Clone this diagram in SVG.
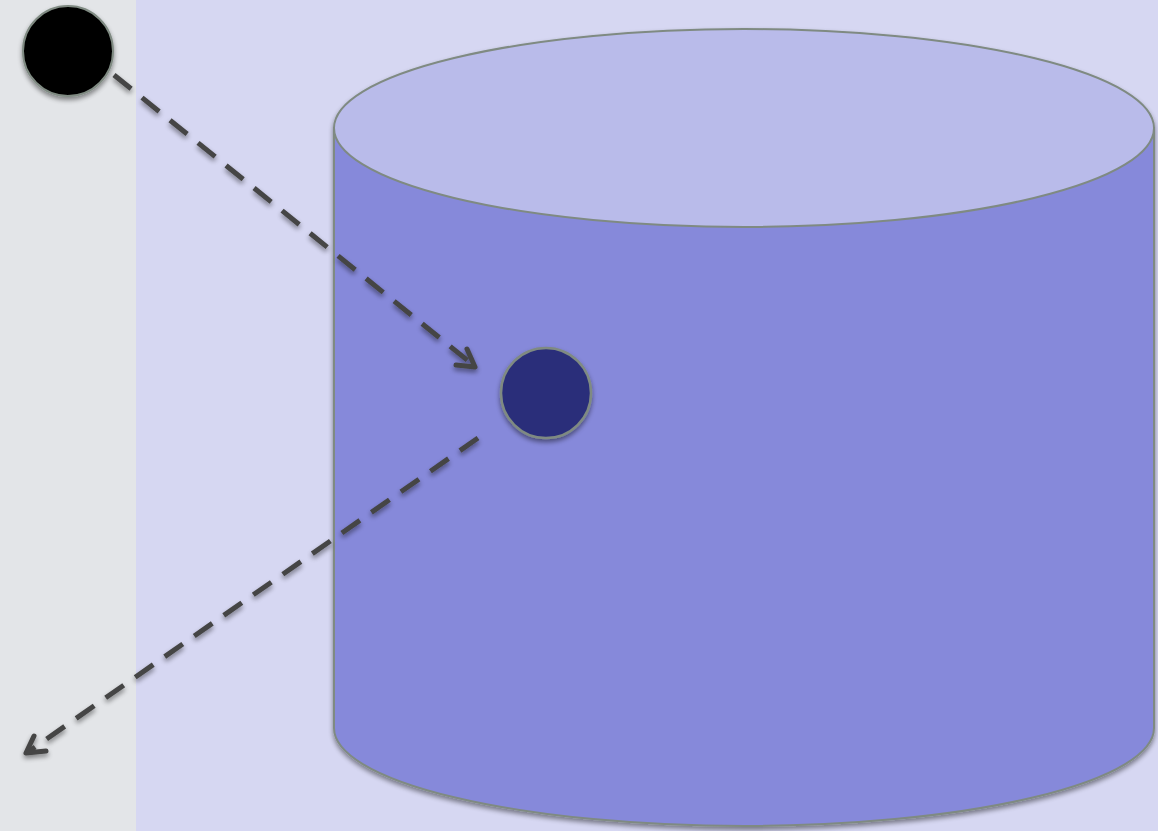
<svg xmlns="http://www.w3.org/2000/svg" width="1158" height="831" viewBox="0 0 1158 831">
<defs>
<style>
.conn{fill:none;stroke:#454545;stroke-width:5;stroke-dasharray:22,14}
.head{fill:none;stroke:#454545;stroke-width:5;stroke-linecap:round;stroke-linejoin:round}
</style>
<filter id="sh" x="-10%" y="-10%" width="120%" height="125%">
<feGaussianBlur in="SourceAlpha" stdDeviation="2.5"/>
<feOffset dx="0" dy="3" result="b"/>
<feComponentTransfer><feFuncA type="linear" slope="0.45"/></feComponentTransfer>
<feMerge><feMergeNode/><feMergeNode in="SourceGraphic"/></feMerge>
</filter>
</defs>
<rect x="0" y="0" width="136" height="831" fill="#e3e5e8"/>
<rect x="136" y="0" width="1022" height="831" fill="#d6d7f2"/>
<g id="cylinder" filter="url(#sh)">
<path d="M334,128 L334,728 A410,98 0 0 0 1154,728 L1154,128 Z" fill="#8689da" stroke="#7f8a82" stroke-width="2"/>
<ellipse cx="744" cy="128" rx="410" ry="99" fill="#b9bbea" stroke="#7f8a82" stroke-width="2"/>
</g>
<g id="start" filter="url(#sh)">
<circle cx="68" cy="51" r="45" fill="#000" stroke="#7f8a82" stroke-width="2"/>
</g>
<g id="state" filter="url(#sh)">
<circle cx="546" cy="393" r="45" fill="#2b2f7a" stroke="#7f8a82" stroke-width="2.5"/>
</g>
<g id="connectors" filter="url(#sh)">
<path class="conn" d="M114,75 L472,364"/>
<path class="head" d="M467,349 L475,367 L456,365"/>
<path class="conn" d="M478,438 L28,752"/>
<path class="head" d="M34,736 L26,753 L46,751"/>
</g>
</svg>
